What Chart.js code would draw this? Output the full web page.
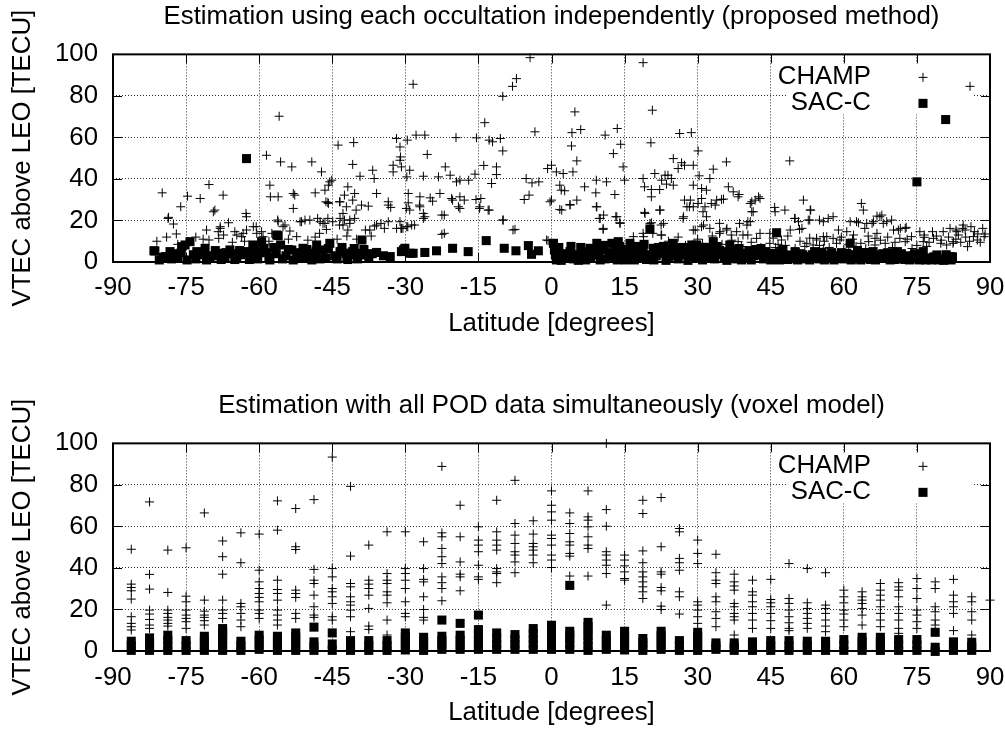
<!DOCTYPE html>
<html>
<head>
<meta charset="utf-8">
<script src="https://cdn.jsdelivr.net/npm/chart.js@4.4.0/dist/chart.umd.min.js"></script>
<style>
    body { margin: 0; background: #fff; }
    .wrap { position: relative; width: 1005px; height: 731px; }
    .wrap canvas { position: absolute; left: 0; }
</style>
</head>
<body>
<div class="wrap">
    <canvas id="topChart" width="1005" height="365" style="top:0"></canvas>
    <canvas id="bottomChart" width="1005" height="366" style="top:365px"></canvas>
</div>
<script>
// upper panel: one point per occultation, [latitude, VTEC]
const champTop = [
    [-79.9,33.3],[-78.6,21.5],[-77.6,18.3],[-76.1,26.6],[-74.7,31.7],[-72.1,30.6],[-70.3,37.3],[-69.4,24.2],[-67.4,32.2],[-76.7,8.5],
    [-70.8,15.4],[-68.4,14.6],[-68,17],[-66.3,18.9],[-65,14.6],[-62.7,23.4],[-62.6,21.8],[-62.6,15.4],[-63.6,12.2],[-61.2,17],
    [-60.5,13.8],[-58.5,51.4],[-57.8,37],[-57.7,31.4],[-56.1,31.4],[-55.9,70.2],[-55.6,48.2],[-53.3,45.8],[-53,33],[-52.7,32.2],
    [-53,25.8],[-56.2,20.2],[-54.7,17.8],[-51.6,19.4],[-50.6,20.2],[-49.6,20.2],[-49.2,48.2],[-48.5,33.3],[-47.2,43.4],[-46.5,34.6],
    [-45.8,37],[-45.5,38.6],[-45.1,39.4],[-46.3,29],[-45.8,28.2],[-47.5,19.4],[-46.5,18.6],[-46.2,15.7],[-53.7,14.9],[-52.3,12.2],
    [-57.4,13.8],[-59.2,12.2],[-47.6,13.8],[-78.7,21],[-69.1,25],[-68,16.2],[-68.3,11.4],[-70.3,10.6],[-67.3,13],[-64.6,13],
    [-63.3,13.8],[-60.6,17],[-59.5,14.6],[-56.1,19.4],[-55.1,17],[-51.3,19.4],[-48,21],[-46.9,18.6],[-45.9,21],[-44.9,19.4],
    [-43.4,21],[-42.8,17.8],[-41.4,20.2],[-42.8,23.4],[-45.9,28.7],[-43.4,29],[-42.1,26.6],[-40.1,25],[-38.2,15.4],[-35.9,17.8],
    [-33.5,27.4],[-31.8,16.2],[-30.9,16.2],
    [-81,10],[-79,12],[-77,13.5],[-73,12],[-71.5,11],[-65.5,9.5],[-63,10],[-58,10],[-54,11],[-50,10.5],
    [-48.5,12],[-44,11],[-42,12.5],[-40,11],[-37,12.5],
    [-4.4,98.4],[18.8,96],[-28.4,85.6],[-7.2,88.3],[-8.0,84.6],[-10.0,79.8],[4.8,72.3],[20.7,73.1],[-13.7,67.1],[-3.4,62.7],
    [4.2,62.3],[6.0,63.8],[13.5,64.3],[11.0,61.1],[14.2,56.7],[20.4,57.4],[-31.8,59.5],[-31.1,55.4],[-29.6,58.7],[-27.8,61.1],
    [-26.0,61.1],[-25.5,51.8],[-19.6,59.9],[-15.4,59.8],[-12.8,58.7],[-12.1,57.9],[-10.5,59.5],[-10.0,53.5],[4.1,55.9],[12.7,52.2],
    [-43.8,56.3],[-40.6,57.5],[-31.0,50.6],[-31.1,49],[-40.8,47],[-36.7,44.2],[-39.3,41.3],[-36.4,40.2],[-32.5,46.6],[-30.8,45.8],
    [-29.1,44.2],[-32.5,43.4],[-29.7,41],[-26.3,41.3],[-21.8,45.8],[-23.2,41],[-20.8,41.8],[-18.8,39.4],[-17.0,39.4],[-15.7,42.3],
    [-13.9,46.5],[-11.3,45.8],[-11.3,42.1],[-12.3,37.8],[-5.2,40.2],[-4.0,38.1],[-2.6,38.6],[-4.6,32.2],[-5.6,30.1],[-0.8,45],
    [0.0,46.6],[1.0,43.4],[2.4,42.6],[4.4,43.4],[5.2,48.7],[1.7,37],[2.0,34.6],[2.7,34.3],[0.0,29.8],[-0.3,29],
    [1.7,25.3],[3.8,27.7],[5.2,29.8],[6.8,36.2],[9.2,39.4],[11.3,38.6],[9.1,33.3],[13.0,32.5],[14.7,45.8],[15.0,39.4],
    [18.8,40.2],[19.1,36.2],[20.5,34.9],[22.2,34.9],[21.2,42.6],[23.3,41.8],[20.5,31.4],[22.2,25],[19.1,23.9],[20.5,18.9],
    [22.5,17.8],[18.8,13.8],[20.8,13.8],[22.5,13],[9.2,26.6],[9.8,21],[10.7,22.6],[13.2,21.8],[14.0,18.9],[10.6,15.7],
    [-10.0,20.2],[-7.9,15.4],[-0.7,10.3],[-22.0,13.8],[-22.0,22.6],[-26.3,21],[-27.0,26.6],[-26.3,23.4],[-24.9,30.9],[-24.4,29.3],
    [-22.9,33],[-27.0,31.4],[-29.4,33],[-29.4,28.5],[-29.1,25],[-33.5,29],[-33.0,26.3],[-31.1,19.4],[-30.8,16.2],[-29.7,17],
    [-28.7,17.8],[-35.0,18.6],[-34.3,16.2],[-33.5,19.4],[-37.3,15.4],[-40.4,21],[-41.4,18.6],[-41.8,15.4],[-42.5,20.2],[-43.5,17.8],
    [-40.8,29.8],[-40.4,33],[-41.8,36.2],[-42.5,32.2],[-43.5,29],[-39.0,27.4],[-37.6,26.9],[-35.9,33],[-19.5,38.6],[-20.3,29.8],
    [-18.8,31.4],[-17.9,29.8],[-15.5,30.1],[-14.5,30.6],[-14.8,25.8],[-12.8,25],[-19.1,26.6],[-36.3,17.3],
    [-30.5,16.2],[-29.5,17],[-28.1,17.8],[-29.8,25.8],[-27.1,27.4],[-26.0,21.8],[-22.5,22.6],[-22.5,13.3],[-20.5,30.6],[-18.8,25.8],
    [-14.7,26.6],[-13.0,25],[-9.9,20.2],[-7.5,15.7],[-1.0,10.6],[2.1,25],[3.8,27.4],[9.3,26.6],[10.0,21],[10.6,16.2],
    [13.4,21.8],[14.1,18.6],[16.8,12.2],[19.2,23.4],[22.3,25],[20.2,18.6],[23.0,18.6],[18.9,12.2],[22.6,13],[27.1,21.8],
    [29.1,15.4],[27.8,26.6],[28.5,29.8],
    [85.9,84.6],[26.3,61.9],[28.7,62.3],[30.1,53.5],[25.0,49.8],[26.7,47.8],[26.0,45],[27.3,46.6],[29.1,46.6],[23.9,41.8],
    [24.6,40.2],[22.6,39.4],[23.6,37.5],[25.0,37],[30.3,41.5],[32.5,40.2],[33.2,44.7],[35.9,48.2],[48.9,48.7],[29.1,37],
    [30.8,35.4],[31.8,34.6],[27.3,29.8],[28.3,26.6],[29.1,26.6],[30.1,28.2],[30.8,30.6],[32.8,28.2],[33.9,29.8],[34.9,30.1],
    [36.3,36.2],[37.3,33.8],[38.5,32.5],[40.8,28.2],[41.8,29.8],[42.8,30.6],[41.4,24.2],[31.8,21.8],[31.1,24.2],[27.0,21],
    [30.8,17],[34.5,18.6],[35.9,15.4],[38.6,18.6],[40.3,19.4],[45.8,26.3],[49.9,21],[53.2,25],[50.9,15.7],[53.0,20.2],
    [55.0,20.2],[56.8,21],[61.3,19.4],[63.0,18.9],[64.7,18.6],[66.1,19.4],[66.8,22.1],[67.8,22.6],[68.8,19.4],[70.2,15.4],
    [71.6,16.2],[72.8,16.7],[66.8,13.8],[76.5,11.9],[78.2,14.6],[79.9,9],[83.0,15.4],[84.4,16.2],[86.1,17],[86.8,14.6],
    [88.5,16.2],[88.8,12.2],[87.4,10.6],[85.4,7.4],[82.4,9],[62.0,13],[59.2,10.6],[56.5,12.2],[54.4,10.6],[52.4,9],
    [44.8,13.8],[42.8,13.8],[40.3,13],[38.0,14.6],[34.5,13.8],
    [31.5,26.6],[33.6,27.4],[35.3,30.3],[38.3,31.4],[41.1,29],[41.1,24.2],[40.8,19.4],[40.1,17.8],[42.5,31.4],[45.9,24.2],
    [47.9,25],[51.7,29.8],[53.1,25],[50,21],[50.7,19.4],[52.7,20.2],[49,15.4],[51.4,16.2],[55.8,19.4],[57.8,21.8],
    [62.6,19.4],[63.6,28.2],[64,25],[64.3,16.2],[65.8,18.6],[67.4,21.8],[68.1,18.6],[69.8,20.2],[71.2,15.4],[72.6,16.2],
    [71.5,11.4],[73.9,12.2],[75.6,14.6],[76.3,9.8],[78.4,11.4],[80.4,14.6],[81.8,16.2],[83.2,14.6],[84.5,17.8],[84.9,15.4],
    [86.6,12.2],[82.5,9.8],[81.1,8.2],[44.8,9],[47.2,10.6],[42.1,11.4],[39.3,13],[38.3,9.8],[36.9,13],[34.6,14.6],
    [36.0,16.2],[32.5,16.2],[29.5,15.4],[31.2,17.8],[54.4,11.4],[55.8,12.2],[57.8,11.4],[58.5,9],[53.7,8.2],[55.8,6.6],
    [65.1,9.8],[66.4,8.2],[68.5,9],[72.6,9.8],[66.4,11.4],[60.6,14.6],[58.9,15.4],
    [46,7],[48,8],[50,6.5],[52,7.5],[57,7],[60,6],[62.5,7.5],[64.5,6.5],[70,7],[74,6.5],[77,7.5],[83,11],[85,12],[87.5,13.5],
    [24,10],[26,12],[27.5,8],[30,11],[31,9],[33,12.5],[35,8.5],[37,10.5],[39,7.5],[41,9.5],
    [43,7],[45.5,11.5],[46.5,8.5],[48.5,12.5],[51,10],[53,11.5],[55,8],[56,10],[59.5,12],[61,8.5],
    [61.8,11],[63.5,9],[65,12.5],[67.5,10.5],[69,12],[70.5,9.5],[73,11],[75,8],[76.5,13],[77.5,9.5],
    [79,12.5],[80,10.5],[81.5,12],[84,9.5],[85.8,10],[88,9.5],[89,13.5],[83.5,13]
];

const sacTop = [
    [-62.6,49.8],[-56.1,12.7],[-81.6,5.4],[-79.7,2.2],[-78.3,5],[-75.9,7.4],[-74.2,9.8],[-81.4,5.3],[-79.3,2.6],[-75.2,8.2],
    [-76.7,2.6],[-72.8,5],[-71.1,6.6],[-70.1,2.6],[-68.0,4.2],[-66,5.8],[-64.6,1.8],[-62.6,5],[-61.3,8.2],[-59.5,9.8],
    [-59,6.6],[-61,2.6],[-56.4,13],[-55.6,8.2],[-53.3,5.8],[-52.3,2.6],[-51,6.6],[-49.6,4.2],[-48.2,8.2],[-46.9,5.8],
    [-45.5,9],[-43.4,5],[-41.4,4.2],[-38.9,10.6],[-39.6,4.2],[-35.9,4.6],[-33.1,2.6],[-30.4,5.8],
    [-77.5,4],[-73.5,3.5],[-69,5.5],[-67,2],[-65.5,4],[-63.5,3.5],[-60,4.5],[-58,2.5],[-57,7],[-54.5,3],
    [-50.5,2],[-48.8,3],[-47.5,1.5],[-44.5,3],[-42,2.5],[-40.5,6.5],[-42.2,4.2],[-40.6,3.4],[-39.2,3.4],[-30.8,5],
    [-80.5,1],[-78,1.5],[-76,4.5],[-74.8,1],[-73,1.5],[-71.8,3.5],[-70.8,1],[-69.5,3],[-67.8,1.2],[-66.8,4.5],
    [-65,1.2],[-64,5.5],[-62,1.2],[-60.8,5.5],[-60.3,1.5],[-58.5,4.5],[-57.8,1],[-56.5,4],[-55.2,1.5],[-54,6],
    [-53,1],[-51.8,4.5],[-50.2,6],[-49.2,1],[-48.3,5],[-46.3,2],[-45.8,6.5],[-44,1.5],[-43,7],[-41.8,1.2],
    [-40.8,5],[-39.8,1.5],[-38.5,6],[-37.5,2.5],[-36.8,4],[-34.5,3],
    [-30.1,6.6],[-29.0,4.2],[-28.4,4.2],[-26.0,4.6],[-23.6,5.4],[-20.3,6.6],[-17.1,5],[-13.4,10.3],[-9.7,6.6],[-7.3,5.4],
    [-4.75,7.9],[-4.1,3.7],[-2.7,5.4],[0.4,9],[0.6,5.8],[1.75,2.6],[3.8,5],[5.9,2.6],[7.9,6.6],[9.3,9],
    [9.7,3.4],[12.4,9],[13.7,9.8],[12.8,2.6],[16.1,9],[17.1,5],[18.2,2.6],[20.2,15.9],[20.9,6.6],[23.0,4.2],
    [25.0,9],[26.4,5],[28.8,8.2],[29.1,1.8],
    [1,1],[2.5,4],[4.5,1.5],[6.5,5],[7,1],[8.5,3.5],[10.5,6],[11,1.5],[11.8,4.5],[13,6.5],
    [14.5,3.5],[15.2,1],[15.8,6],[17.5,7.5],[18.8,4.5],[19.5,1.2],[21.5,3],[22,7],[24,2],[24.5,6],
    [26,1.5],[27.2,7],[27.5,3.5],[28,0.8],
    [0.8,3.5],[1.5,7],[2,0.8],[3,2],[4,7.5],[5,3.5],[5.5,0.8],[6,7],[7.5,4],[8,1.8],
    [9,6],[10,1],[10.8,8],[12,3],[13.5,1],[14,7.5],[14.8,5],[16.5,3],[17,1],[18,6.5],
    [19,8.5],[20,3.5],[21,1],[21.8,5],[23,7.5],[23.5,0.8],[25,3],[25.5,7],[26.8,3.5],[28.3,5.5],[29.5,4],
    [29.8,8.2],[33.2,9.8],[36.6,8.2],[31.9,3.4],[38.7,4.2],[42.1,3.4],[46.2,14.1],[45.5,4.2],[49,3.4],[52.4,2.6],
    [55.8,3.4],[61.3,9],[60.6,4.2],[64,3.4],[67.4,3.4],[70.9,2.6],[74.3,2.6],[76.3,5],[79.1,3.4],[81.8,2.6],
    [80.9,68.6],[75.0,38.6],
    [30.5,5],[31,1],[32.5,6],[33.5,1.5],[34.5,5.5],[35.5,2],[36,0.8],[37.5,6],[38,1.5],[39.5,2.5],
    [40.5,5.5],[41,1],[43,6.5],[43.5,1.5],[44.5,2.5],[46.8,1],[47.5,6],[48,2],[50,5],[50.5,1],
    [51.5,3.5],[53,1],[54,5],[55,1.5],[56.5,2.5],[57.5,4.5],[58,1],[59,3],[60,1.5],[62,2],
    [62.8,5.5],[63.5,1],[65,2.5],[66,5],[66.5,1],[68.2,2],[69,4.5],[69.5,1],[71.8,4],[72.5,1.2],
    [73,3],[75.5,1],[77,2],[78,1],[80,1.5],[80.5,0.8],[82,1],
    [30.2,2.5],[31.5,7],[32,1.8],[33,4],[34,7.5],[35,3.5],[36.2,5],[37,2.5],[38.5,6.5],[39,1],
    [40,4],[41.5,3],[42,6],[43.2,3.5],[44,5],[45,1],[46,3],[47,4.5],[48.5,1.2],[49.5,2],
    [51,4],[52,1.5],[53.5,3.5],[54.5,2],[55.5,4.5],[56,1],[57,3],[58.5,2],[59.5,4.5],[60.3,2.5],
    [61.5,1],[62.3,3.5],[63,1.5],[64.5,4.5],[65.5,1.2],[67,2],[68,4],[70,3],[70.5,1.2],[71,5],
    [72,2],[73.5,1],[74.5,4],[75,1.5],[76,3],[76.8,1],[78.5,2.5],[79.5,1],[81,3.5],[81.5,1.5],[82.3,2.5]
];

// lower panel: voxel model, values grouped by latitude bin
const bottomLats = [-86.25, -82.5, -78.75, -75, -71.25, -67.5, -63.75, -60, -56.25, -52.5, -48.75, -45,
    -41.25, -37.5, -33.75, -30, -26.25, -22.5, -18.75, -15, -11.25, -7.5, -3.75, 0,
    3.75, 7.5, 11.25, 15, 18.75, 22.5, 26.25, 30, 33.75, 37.5, 41.25, 45,
    48.75, 52.5, 56.25, 60, 63.75, 67.5, 71.25, 75, 78.75, 82.5, 86.25, 90];

const champBottom = [
    [49, 32.2, 30.6, 29, 25, 16.5, 13.3, 11.7, 10.1],
    [71.8, 36.9, 29.8, 19.7, 17.8, 15.2, 12.5, 10.9],
    [48.6, 28.2, 19.7, 18.1, 16.2, 14.9, 13.3, 12],
    [49.7, 26.4, 23.7, 19.7, 17.3, 15.7, 14.1, 10.9],
    [66.5, 24.5, 19.2, 17.3, 16.2, 14.6, 12.5],
    [53, 45.4, 37, 24.5, 19.7, 18.1, 15.7],
    [56.9, 42.5, 22.9, 21.3, 18.1, 14.9, 11.7],
    [56.3, 38.9, 33.3, 30.1, 27.7, 25.8, 23.7, 19.7, 18.1, 15.7],
    [72.3, 58.2, 34.1, 29.6, 27.7, 24.5, 19.7, 17.3, 14.9, 12.5],
    [68.6, 50.2, 48.9, 29.3, 27.7, 25.8, 18.1, 15.7],
    [72.9, 39.3, 34.1, 32.5, 26.9, 21.3, 17.3, 16.2],
    [93.4, 39.7, 35.7, 30.1, 28.5, 26.1, 22.9, 16.5, 14.9],
    [79.3, 45.7, 32.5, 30.9, 26.1, 23.7, 22.1, 19.7, 16.5, 9.3],
    [51, 34.1, 32.2, 30.1, 26.9, 20.5, 12, 10.4],
    [57.4, 37.3, 34.1, 32.5, 28.5, 26.9, 23.2, 14.9, 7.7],
    [57.4, 39.7, 37.3, 34.1, 30.1, 23.7, 18.1, 16.5],
    [52.6, 39.7, 34.5, 33.3, 26.1, 20, 16.2, 14.9],
    [88.9, 56.9, 55, 49.4, 45.4, 42.1, 35.7, 32.9, 30.1, 24.2],
    [70.2, 55, 42.9, 37, 35.7, 29],
    [59.8, 53.4, 51, 47.8, 41.3, 35.7, 34.5],
    [72.6, 57.4, 53.4, 51, 48.6, 39.7, 38.1, 37.3, 32.9],
    [82.2, 61.4, 55.8, 51.8, 47.8, 46.2, 42.9, 37.7],
    [62.7, 56.3, 51.8, 50.2, 48.6, 46.2, 42.5],
    [77.1, 70.2, 67, 63, 55.8, 54.2, 51, 46.2, 43.8, 40.2],
    [66.5, 61.4, 56.6, 52.6, 51, 47, 45.7, 36.1],
    [77.1, 64.6, 63, 59.8, 55, 51, 49.4, 36.1],
    [100, 68.1, 60.1, 47.8, 46.2, 43.8, 41.3, 37.3, 22.1],
    [46.2, 43.8, 41, 38.1, 34.9, 34.1],
    [72.6, 66.2, 48.2, 42.5, 38.1, 35.7, 33.3, 30.9, 28.5, 25.3],
    [73.9, 50.2, 38.1, 37, 30.6, 29, 21.6, 20],
    [59, 57.4, 44.6, 42.5, 38.9, 28.5, 26.1, 17.8],
    [53.4, 47, 42.1, 23.7, 22.1, 19.7, 16.5, 13.3],
    [46.6, 37.7, 34.1, 32.5, 26.1, 23.7, 18.9, 15.7, 11.7],
    [37, 33.3, 31.3, 29.3, 22.9, 21.3, 18.1, 16.5, 14.9, 7.7],
    [34.1, 28.5, 26.9, 23.7, 21.3, 18.1, 14.9, 10.9],
    [34.5, 24.8, 23.2, 21.3, 18.1, 14.6, 10.9],
    [42.1, 25.3, 22.9, 19.7, 16.5, 13.6, 10.9, 9.8],
    [39.7, 23.2, 20.5, 18.1, 15.7, 13.3, 10.9],
    [37.7, 22.1, 20.5, 18.1, 14.9, 12, 9.3],
    [29.3, 26.1, 23.2, 19.7, 17.8, 14.9, 11.7],
    [28.5, 26.1, 24.5, 22.9, 20.5, 17.3, 12.5],
    [32.5, 29.3, 26.9, 24.5, 21.3, 18.1, 14.9, 11.7],
    [32.9, 30.9, 29.3, 26.1, 21.3, 18.1, 14.9, 10.9, 8.5],
    [34.9, 30.1, 25.3, 19.7, 17.3, 14.1, 10.9],
    [33.3, 30.1, 21.3, 18.9, 14.9, 12.5],
    [34.5, 26.9, 23.7, 21.3, 18.1, 9.8],
    [26.1, 23.7, 18.9, 14.9, 7.7],
    [24.5]
];

const sacBottom = [
    [0.3, 2.5, 4.7], [0.3, 2.3, 4.3, 6.3], [0.3, 2.7, 5.1, 7.6], [0.3, 2.6, 5],
    [0.3, 2.5, 4.8, 7.1], [0.3, 2.6, 4.9, 7.2, 9, 10.8], [0.3, 2.5, 4.7], [0.8, 3, 5.3, 7.6],
    [0.3, 2.5, 4.8, 7.1], [0.3, 2.5, 4.6, 6.7, 8.7], [0.3, 2.4, 4.4, 11.5], [0.3, 3.4, 8.7],
    [0.3, 2.6, 5], [0.3, 2.6, 5], [0.3, 2.6, 5], [0.5, 2.6, 4.6, 6.7, 8.7],
    [0.3, 2.4, 4.5, 6.6], [0.8, 3, 5, 7.1, 14.9], [0.8, 3, 5.3, 7.6, 13.3], [0.8, 3, 5.5, 8, 10.3, 17.3],
    [0.8, 3.4, 6, 8.7], [0.8, 3.2, 5.5, 7.9], [0.8, 3.3, 5.8, 8.3, 10.8], [0.8, 3.3, 5.8, 8.3, 10.4, 12.4],
    [0.8, 3.3, 5.8, 7.7, 9.5, 31.6], [0.3, 2.6, 5, 7.4, 9.6, 11.8, 13.8], [0.8, 3, 5.3, 7.6], [0.5, 2.8, 5, 7.3, 9.5],
    [0.3, 2.2, 4.1, 6], [0.8, 3, 5.2, 7.4, 9.5], [0.3, 2.6, 5], [0.3, 2.5, 4.7, 6.9, 9],
    [0.8, 2.4, 3.9], [0.3, 2.1, 3.9], [0.3, 2.4, 4.4], [0.3, 2.6, 5],
    [0.3, 2.6, 5], [0.3, 2.5, 4.7], [0.3, 2.5, 4.7], [0.3, 2.9, 5.5],
    [0.3, 2.4, 4.5, 6.6], [0.3, 2.4, 4.5, 6.6], [0.3, 2.9, 5.5], [0.3, 2.9, 5.5],
    [-0.2, 1.8, 9], [0.3, 2.4, 4.4], [0.3, 2.3, 4.2], []
];

const xTicks = { min: -90, max: 90, step: 15 };
const yTicks = { min: 0, max: 100, step: 20 };

const FONT = "'Liberation Sans', Arial, Helvetica, sans-serif";
const FS = 25.8;

function pairsToPoints(pairs) {
    return pairs.map(p => ({ x: p[0], y: p[1] }));
}

function binsToPoints(lats, groups) {
    const pts = [];
    lats.forEach((lat, i) => {
        groups[i].forEach(v => pts.push({ x: lat, y: v }));
    });
    return pts;
}

// gnuplot-like frame: inward ticks on all four sides, heavy border, opaque key
const framePlugin = {
    id: 'frame',
    beforeDatasetsDraw(chart) {
        const { ctx, chartArea: a } = chart;
        ctx.save();
        ctx.fillStyle = '#fff';
        ctx.fillRect(a.right - 202, a.top + 9, 184, 51);
        ctx.restore();
    },
    afterDraw(chart) {
        const { ctx, chartArea: a, scales } = chart;
        const len = 9;
        ctx.save();
        ctx.strokeStyle = '#000';
        ctx.lineWidth = 1;
        ctx.beginPath();
        scales.x.ticks.forEach(t => {
            const px = Math.round(scales.x.getPixelForValue(t.value)) + 0.5;
            ctx.moveTo(px, a.bottom); ctx.lineTo(px, a.bottom - len);
            ctx.moveTo(px, a.top); ctx.lineTo(px, a.top + len);
        });
        scales.y.ticks.forEach(t => {
            const py = Math.round(scales.y.getPixelForValue(t.value)) + 0.5;
            ctx.moveTo(a.left, py); ctx.lineTo(a.left + len, py);
            ctx.moveTo(a.right, py); ctx.lineTo(a.right - len, py);
        });
        ctx.stroke();

        ctx.lineWidth = 2;
        ctx.strokeRect(a.left, a.top, a.right - a.left, a.bottom - a.top);

        // key
        ctx.font = FS + 'px ' + FONT;
        ctx.textAlign = 'right';
        ctx.textBaseline = 'middle';
        const rows = [a.top + 23, a.top + 49];
        const markerX = a.right - 67;
        chart.data.datasets.forEach(ds => {
            const y = rows[ds.keyRow];
            ctx.fillStyle = '#000';
            ctx.fillText(ds.label, a.right - 119, y);
            ctx.strokeStyle = ds.borderColor;
            ctx.fillStyle = ds.backgroundColor;
            ctx.lineWidth = ds.borderWidth || 1;
            Chart.helpers.drawPoint(ctx, {
                pointStyle: ds.pointStyle,
                radius: ds.pointRadius,
                borderWidth: ds.borderWidth,
                rotation: 0
            }, markerX, y);
        });
        ctx.restore();
    }
};

function makeChart(id, title, champPts, sacPts, box) {
    const ctx = document.getElementById(id).getContext('2d');
    return new Chart(ctx, {
        type: 'scatter',
        data: {
            datasets: [
                {
                    label: 'CHAMP',
                    data: champPts,
                    pointStyle: 'cross',
                    pointRadius: 4.5,
                    borderWidth: 1,
                    borderColor: '#000',
                    backgroundColor: 'rgba(0,0,0,0)',
                    clip: false,
                    order: 1,
                    keyRow: 0
                },
                {
                    label: 'SAC-C',
                    data: sacPts,
                    pointStyle: 'rect',
                    pointRadius: 6.4,
                    borderWidth: 0,
                    borderColor: '#000',
                    backgroundColor: '#000',
                    clip: false,
                    order: 0,
                    keyRow: 1
                }
            ]
        },
        options: {
            responsive: false,
            animation: false,
            events: [],
            layout: { padding: { left: 0, right: 15, top: 0, bottom: 0 } },
            plugins: {
                legend: { display: false },
                tooltip: { enabled: false },
                title: {
                    display: true,
                    text: title,
                    fullSize: false,
                    color: '#000',
                    font: { family: FONT, size: FS, weight: 'normal' },
                    padding: { top: box.titleTop, bottom: box.titleBottom }
                }
            },
            scales: {
                x: {
                    type: 'linear',
                    min: xTicks.min,
                    max: xTicks.max,
                    afterFit: s => {
                        s.height = box.xHeight;
                        s.paddingLeft = 0;
                        s.paddingRight = 0;
                    },
                    ticks: {
                        stepSize: xTicks.step,
                        color: '#000',
                        padding: box.xTickPad,
                        maxRotation: 0,
                        font: { family: FONT, size: FS }
                    },
                    grid: { color: '#333', lineWidth: 1, drawTicks: false },
                    border: { display: false, dash: [1, 2] },
                    title: {
                        display: true,
                        text: 'Latitude [degrees]',
                        color: '#000',
                        font: { family: FONT, size: FS },
                        padding: { top: 0, bottom: box.xTitleBottom }
                    }
                },
                y: {
                    min: yTicks.min,
                    max: yTicks.max,
                    afterFit: s => {
                        s.width = 113;
                        s.paddingTop = 0;
                        s.paddingBottom = 0;
                    },
                    ticks: {
                        stepSize: yTicks.step,
                        color: '#000',
                        padding: 15,
                        font: { family: FONT, size: FS }
                    },
                    grid: { color: '#333', lineWidth: 1, drawTicks: false },
                    border: { display: false, dash: [1, 2] },
                    title: {
                        display: true,
                        text: 'VTEC above LEO [TECU]',
                        color: '#000',
                        font: { family: FONT, size: FS },
                        padding: { top: 7, bottom: 0 }
                    }
                }
            }
        },
        plugins: [framePlugin]
    });
}

makeChart('topChart', 'Estimation using each occultation independently (proposed method)',
    pairsToPoints(champTop), pairsToPoints(sacTop),
    { titleTop: 1.2, titleBottom: 22.2, xHeight: 103, xTickPad: 10.5, xTitleBottom: 25.5 });

makeChart('bottomChart', 'Estimation with all POD data simultaneously (voxel model)',
    binsToPoints(bottomLats, champBottom), binsToPoints(bottomLats, sacBottom),
    { titleTop: 25.7, titleBottom: 21.7, xHeight: 80, xTickPad: 11.5, xTitleBottom: 3 });
</script>
</body>
</html>
